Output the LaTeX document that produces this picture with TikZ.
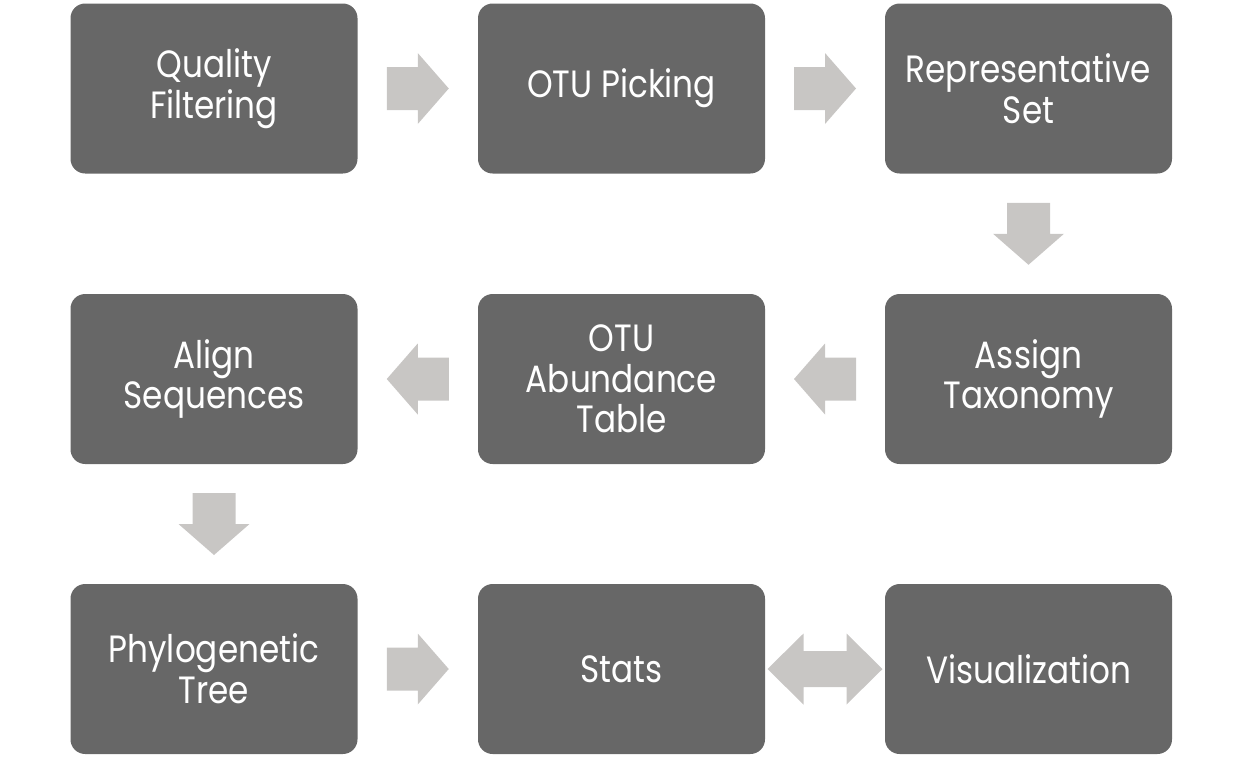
\documentclass[tikz,border=0pt]{standalone}
\usepackage{fontspec}
\setmainfont{Poppins}[FakeStretch=0.86]
\usetikzlibrary{calc}
\definecolor{boxgray}{HTML}{676767}
\definecolor{arrgray}{HTML}{C8C6C4}
\tikzset{
  stepbox/.style={fill=boxgray, draw=none, rounded corners=11pt, minimum width=215.25pt, minimum height=127.5pt, align=center, text=white, font=\fontsize{28.5}{30.5}\selectfont, inner sep=0pt},
  rarrow/.pic={\fill[arrgray] (-31,-21.5) -- (0,-21.5) -- (0,-35.5) -- (31,0) -- (0,35.5) -- (0,21.5) -- (-31,21.5) -- cycle;},
  darrow/.pic={\fill[arrgray] (-57.5,0) -- (-21.5,-35.5) -- (-21.5,-18) -- (21.5,-18) -- (21.5,-35.5) -- (57.5,0) -- (21.5,35.5) -- (21.5,18) -- (-21.5,18) -- (-21.5,35.5) -- cycle;}
}
\begin{document}
\begin{tikzpicture}[x=0.75pt,y=-0.75pt]
\useasboundingbox (0,0) rectangle (1242,758);
\node[stepbox] (qf) at (214,88.5) {Quality\\Filtering};
\node[stepbox] (otu) at (621.5,88.5) {OTU Picking};
\node[stepbox] (rep) at (1028.5,88.5) {Representative\\Set};
\node[stepbox] (tax) at (1028.5,379) {Assign\\Taxonomy};
\node[stepbox] (tab) at (621.5,379) {OTU\\Abundance\\Table};
\node[stepbox] (aln) at (214,379) {Align\\Sequences};
\node[stepbox] (tree) at (214,669) {Phylogenetic\\Tree};
\node[stepbox] (stats) at (621.5,669) {Stats};
\node[stepbox] (vis) at (1028.5,669) {Visualization};
\pic at ($(qf.east)!0.5!(otu.west)$) {rarrow};
\pic at ($(otu.east)!0.5!(rep.west)$) {rarrow};
\pic[rotate=-90] at ($(rep.south)!0.5!(tax.north)$) {rarrow};
\pic[rotate=180] at ($(tax.west)!0.5!(tab.east)$) {rarrow};
\pic[rotate=180] at ($(tab.west)!0.5!(aln.east)$) {rarrow};
\pic[rotate=-90] at ($(aln.south)!0.5!(tree.north)$) {rarrow};
\pic at ($(tree.east)!0.5!(stats.west)$) {rarrow};
\pic at ($(stats.east)!0.5!(vis.west)$) {darrow};
\end{tikzpicture}
\end{document}
